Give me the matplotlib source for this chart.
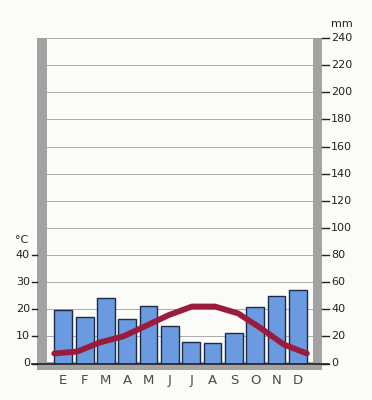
import numpy as np
import matplotlib
matplotlib.use("Agg")
import matplotlib.pyplot as plt
from matplotlib.patches import Rectangle

months = ["E", "F", "M", "A", "M", "J", "J", "A", "S", "O", "N", "D"]
rain_mm = [39.5, 34.4, 48.3, 32.9, 42.4, 27.8, 16.1, 14.9, 22.4, 41.5, 49.5, 53.9]
temp_c = [3.7, 4.4, 7.8, 10.0, 13.9, 17.9, 21.0, 21.0, 18.5, 13.0, 7.0, 3.7]
mm_ticks = list(range(0, 241, 20))
c_ticks = [0, 10, 20, 30, 40]

bg = "#fbfbf7"
gray = "#a3a3a3"
W, H = 372, 400

fig = plt.figure(figsize=(3.72, 4.0), dpi=100, facecolor=bg)
# axes placed in pixel terms: inner area 47..313 px wide, 0 mm at y=363.5, 240 mm at y=38
ax = fig.add_axes([47 / W, (H - 363.5) / H, (313 - 47) / W, (363.5 - 38) / H])
ax.set_facecolor(bg)
x0, x1 = -0.76, 11.71
ax.set_xlim(x0, x1)
ax.set_ylim(0, 240)
ux = (x1 - x0) / (313 - 47)   # data units per pixel
uy = 240 / (363.5 - 38)

x = np.arange(len(months))

# grid lines
for v in mm_ticks[1:]:
    ax.axhline(v, color="#ababab", lw=0.7, zorder=1)

# gray frame (U shape)
ax.add_patch(Rectangle((x0 - 10 * ux, -6 * uy), 10 * ux, 240 + 6 * uy, color=gray,
                       clip_on=False, zorder=2, lw=0))
ax.add_patch(Rectangle((x1, -6 * uy), 9 * ux, 240 + 6 * uy, color=gray,
                       clip_on=False, zorder=2, lw=0))
ax.add_patch(Rectangle((x0 - 10 * ux, -6 * uy), (x1 - x0) + 19 * ux, 8 * uy, color=gray,
                       clip_on=False, zorder=2, lw=0))

# precipitation bars
ax.bar(x, rain_mm, width=0.84, color="#6a9ae0", edgecolor="#1c2a48", lw=1.0, zorder=3)

# baseline
ax.plot([x0 - 15 * ux, x1 + 16 * ux], [0, 0], color="#222222", lw=1.2, clip_on=False, zorder=4)

# temperature line (°C scaled to mm: 10 °C = 20 mm)
xt = np.linspace(-0.42, 11.42, len(months))
ax.plot(xt, np.array(temp_c) * 2, color="#9b1b3c", lw=4.2, solid_capstyle="round",
        solid_joinstyle="round", zorder=5)

# ticks and labels drawn outside
for v in c_ticks:
    ax.plot([x0 - 15 * ux, x0 - 10 * ux], [v * 2, v * 2], color="#222222", lw=1.0, clip_on=False)
    ax.text(x0 - 17 * ux, v * 2, str(v), ha="right", va="center", fontsize=8, color="#222222")
ax.text(x0 - 25 * ux, 91, "°C", ha="center", va="center", fontsize=8, color="#222222")

for v in mm_ticks:
    ax.plot([x1 + 9 * ux, x1 + 16 * ux], [v, v], color="#222222", lw=1.0, clip_on=False)
    ax.text(x1 + 18 * ux, v, str(v), ha="left", va="center", fontsize=8, color="#222222")
ax.text(x1 + 29 * ux, 240 + 7, "mm", ha="center", va="bottom", fontsize=8, color="#222222")

for xi, m in zip(x, months):
    ax.text(xi, -17 * uy, m, ha="center", va="center", fontsize=9.5, color="#4a4a4a")

ax.set_xticks([])
ax.set_yticks([])
for s in ax.spines.values():
    s.set_visible(False)

fig.savefig("out.png", dpi=100, facecolor=bg)
